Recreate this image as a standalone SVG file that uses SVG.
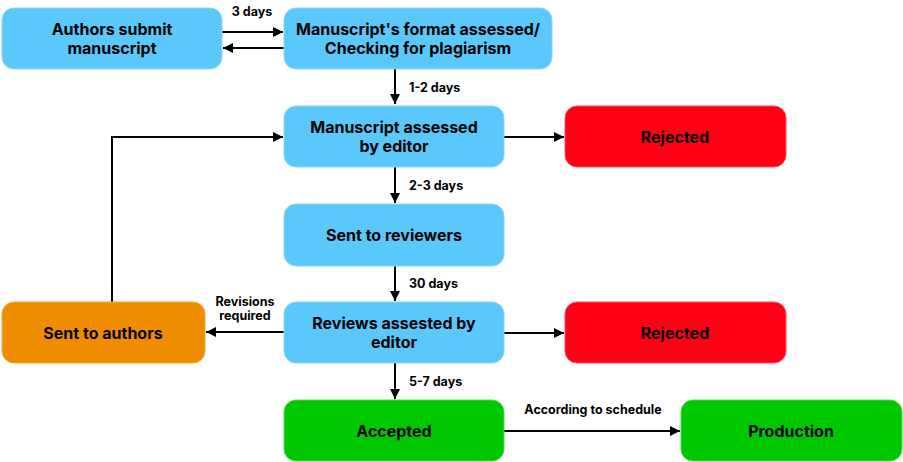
<svg xmlns="http://www.w3.org/2000/svg" width="903" height="462" viewBox="0 0 903 462">
<defs>
<style>
.box{stroke-width:1}
.blue{fill:#5AC8FA;stroke:#8AD6F8}
.red{fill:#FF0015;stroke:#FF5060}
.orange{fill:#F08C00;stroke:#F4A840}
.green{fill:#00C800;stroke:#50D850}
.t{font-family:Inter,"Liberation Sans",Arial,sans-serif;font-weight:700;font-size:16px;fill:#000;text-anchor:middle}
.l{font-family:Inter,"Liberation Sans",Arial,sans-serif;font-weight:700;font-size:12.5px;fill:#000;text-anchor:middle}
.s{text-anchor:start}
.e{fill:none;stroke:#000;stroke-width:2}
</style>
<marker id="ah" viewBox="0 0 10 10" refX="10" refY="5" markerWidth="5" markerHeight="5" orient="auto" markerUnits="strokeWidth">
<path d="M0,0 L10,5 L0,10 z" fill="#000"/>
</marker>
</defs>
<rect width="903" height="462" fill="#fff"/>
<g id="connectors">
<line class="e" x1="222" y1="32" x2="283" y2="32" marker-end="url(#ah)"/>
<line class="e" x1="284" y1="48" x2="223" y2="48" marker-end="url(#ah)"/>
<line class="e" x1="395" y1="69" x2="395" y2="104" marker-end="url(#ah)"/>
<line class="e" x1="504" y1="137" x2="564" y2="137" marker-end="url(#ah)"/>
<line class="e" x1="395" y1="167" x2="395" y2="203" marker-end="url(#ah)"/>
<line class="e" x1="395" y1="266" x2="395" y2="301" marker-end="url(#ah)"/>
<line class="e" x1="504" y1="333" x2="564" y2="333" marker-end="url(#ah)"/>
<line class="e" x1="284" y1="332" x2="206" y2="332" marker-end="url(#ah)"/>
<polyline class="e" points="112,302 112,137 283,137" marker-end="url(#ah)"/>
<line class="e" x1="395" y1="363" x2="395" y2="399" marker-end="url(#ah)"/>
<line class="e" x1="504" y1="431" x2="680" y2="431" marker-end="url(#ah)"/>
<text class="l" x="252" y="16">3 days</text>
<text class="l s" x="409" y="92">1-2 days</text>
<text class="l s" x="409" y="190">2-3 days</text>
<text class="l s" x="409" y="288">30 days</text>
<text class="l s" x="409" y="386">5-7 days</text>
<text class="l" x="245" y="306">Revisions</text>
<text class="l" x="245" y="320">required</text>
<text class="l" x="593" y="414">According to schedule</text>
</g>
<g id="n1"><rect class="box blue" x="2" y="8" width="220" height="61" rx="12"/><text class="t" x="112" y="35">Authors submit</text><text class="t" x="112" y="54">manuscript</text></g>
<g id="n2"><rect class="box blue" x="284" y="8" width="268" height="61" rx="12"/><text class="t" x="418" y="35">Manuscript's format assessed/</text><text class="t" x="418" y="54">Checking for plagiarism</text></g>
<g id="n3"><rect class="box blue" x="284" y="106" width="220" height="61" rx="12"/><text class="t" x="394" y="133">Manuscript assessed</text><text class="t" x="394" y="152">by editor</text></g>
<g id="n4"><rect class="box red" x="565" y="106" width="221" height="61" rx="12"/><text class="t" x="675" y="143">Rejected</text></g>
<g id="n5"><rect class="box blue" x="284" y="204" width="220" height="62" rx="12"/><text class="t" x="394" y="241">Sent to reviewers</text></g>
<g id="n6"><rect class="box blue" x="284" y="302" width="220" height="61" rx="12"/><text class="t" x="394" y="329">Reviews assested by</text><text class="t" x="394" y="348">editor</text></g>
<g id="n7"><rect class="box red" x="565" y="302" width="221" height="61" rx="12"/><text class="t" x="675" y="339">Rejected</text></g>
<g id="n8"><rect class="box orange" x="2" y="302" width="203" height="61" rx="12"/><text class="t" x="103" y="339">Sent to authors</text></g>
<g id="n9"><rect class="box green" x="284" y="400" width="220" height="61" rx="12"/><text class="t" x="394" y="437">Accepted</text></g>
<g id="n10"><rect class="box green" x="681" y="400" width="221" height="61" rx="12"/><text class="t" x="791" y="437">Production</text></g>
</svg>
